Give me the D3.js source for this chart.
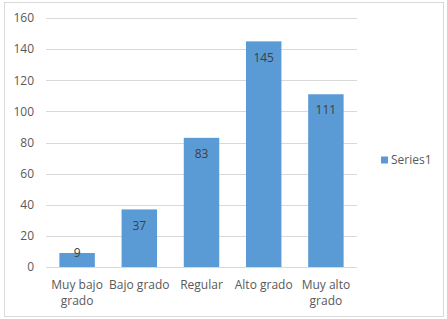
<!DOCTYPE html>
<html lang="es">
<head>
    <meta charset="utf-8">
    <title>Grado</title>
    <script src="https://d3js.org/d3.v7.min.js"></script>
    <style>
        body { margin: 0; background: white; }
        text { font-family: "Open Sans", "Noto Sans", sans-serif; }
    </style>
</head>
<body>
    <div id="chart"></div>
    <script>
        const categories = [["Muy bajo", "grado"], ["Bajo grado"], ["Regular"], ["Alto grado"], ["Muy alto", "grado"]];
        const values = [9, 37, 83, 145, 111];
        const yTicks = [0, 20, 40, 60, 80, 100, 120, 140, 160];
        const seriesName = "Series1";

        const svgWidth = 447, svgHeight = 319;
        const plotLeft = 46, plotRight = 357, plotTop = 18, plotBottom = 267;
        const barColor = "#5b9bd5";

        const svg = d3.select("#chart").append("svg")
            .attr("width", svgWidth)
            .attr("height", svgHeight);

        svg.append("rect")
            .attr("x", 4.5).attr("y", 2.5)
            .attr("width", 439).attr("height", 314)
            .attr("fill", "white")
            .attr("stroke", "#d9d9d9");

        const x = d3.scaleBand()
            .domain(d3.range(values.length))
            .range([plotLeft, plotRight])
            .paddingInner(0.43)
            .paddingOuter(0.215);

        const y = d3.scaleLinear()
            .domain([0, 160])
            .range([plotBottom, plotTop]);

        // gridlines
        svg.append("g")
            .selectAll("line")
            .data(yTicks)
            .join("line")
            .attr("x1", plotLeft).attr("x2", plotRight)
            .attr("y1", d => Math.round(y(d)) + 0.5)
            .attr("y2", d => Math.round(y(d)) + 0.5)
            .attr("stroke", "#d9d9d9");

        const yAxis = svg.append("g")
            .attr("transform", "translate(" + (plotLeft - 12) + ",0)")
            .call(d3.axisLeft(y).tickValues(yTicks).tickSize(0));
        yAxis.select(".domain").remove();
        yAxis.selectAll("text")
            .attr("fill", "#595959")
            .style("font-size", "12px")
            .attr("x", 0);

        svg.append("g")
            .selectAll("rect")
            .data(values)
            .join("rect")
            .attr("x", (d, i) => x(i))
            .attr("y", d => y(d))
            .attr("width", x.bandwidth())
            .attr("height", d => y(0) - y(d))
            .attr("fill", barColor);

        svg.append("g")
            .selectAll("text")
            .data(values)
            .join("text")
            .attr("x", (d, i) => x(i) + x.bandwidth() / 2)
            .attr("y", d => (y(0) - y(d) < 30 ? y(d) : y(d) + 16))
            .attr("dy", "0.35em")
            .attr("text-anchor", "middle")
            .attr("fill", "#404040")
            .style("font-size", "12px")
            .text(d => d);

        // category labels
        const xLabels = svg.append("g")
            .selectAll("text")
            .data(categories)
            .join("text")
            .attr("x", (d, i) => x(i) + x.bandwidth() / 2)
            .attr("y", 285)
            .attr("text-anchor", "middle")
            .attr("fill", "#595959")
            .style("font-size", "12px");
        xLabels.selectAll("tspan")
            .data(d => d)
            .join("tspan")
            .attr("x", function () { return d3.select(this.parentNode).attr("x"); })
            .attr("dy", (d, i) => i === 0 ? "0.35em" : "16px")
            .text(d => d);

        // legend
        const legend = svg.append("g").attr("transform", "translate(381,160)");
        legend.append("rect")
            .attr("x", 0).attr("y", -3.5)
            .attr("width", 7).attr("height", 7)
            .attr("fill", barColor);
        legend.append("text")
            .attr("x", 10).attr("y", 0)
            .attr("dy", "0.35em")
            .attr("fill", "#595959")
            .style("font-size", "12px")
            .text(seriesName);
    </script>
</body>
</html>
